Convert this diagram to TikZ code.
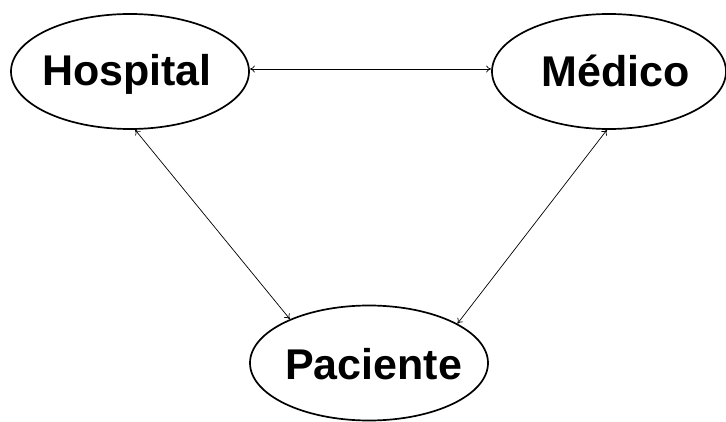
\documentclass[tikz,border=0pt]{standalone}
\usepackage{fontspec}
\setmainfont{Liberation Sans}
\usetikzlibrary{shapes.geometric,arrows.meta}
\tikzset{
  oval/.style={draw=black, line width=1.7pt, ellipse, inner sep=0pt, minimum width=238pt, minimum height=115pt},
  lbl/.style={inner sep=0pt, text height=31pt, text depth=0pt, font=\fontsize{43}{50}\selectfont\bfseries},
  link/.style={line width=0.7pt, {To[length=5pt,width=7pt]}-{To[length=5pt,width=7pt]}}
}
\begin{document}
\begin{tikzpicture}[x=1pt,y=-1pt]
\useasboundingbox[fill=white] (0,0) rectangle (726,422);
\node[oval] (hosp) at (130,71.5) {};
\node[oval, minimum width=234pt] (med) at (609,71.5) {};
\node[oval] (pac) at (369,363) {};
\node[lbl] (hospt) at (127,70.5) {Hospital};
\node[lbl] (medt) at (616,71.5) {Médico};
\node[lbl] (pact) at (373.5,364) {Paciente};
\draw[link] ([yshift=2.5pt]hosp.east) -- ([yshift=2.5pt]med.west);
\draw[link] (hosp.-85) -- (pac.151);
\draw[link] (med.-92) -- (pac.24);
\end{tikzpicture}
\end{document}
